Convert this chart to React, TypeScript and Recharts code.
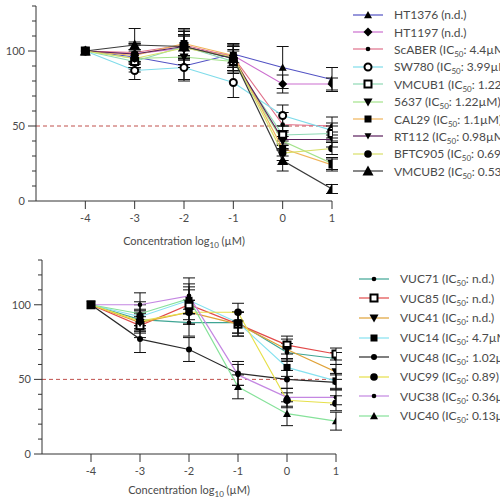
import React from 'react';
import { LineChart, Line, XAxis, YAxis, ErrorBar, ReferenceLine } from 'recharts';

// log10 concentration (µM)
const DOSES = [-4, -3, -2, -1, 0, 1];
const X_TICKS = [-4, -3, -2, -1, 0, 1];
const Y_TICKS = [0, 10, 20, 30, 40, 50, 60, 70, 80, 90, 100, 110, 120, 130];
const Y_LABELS = [0, 50, 100];

// --- upper panel: bladder cancer lines ---
const TOP_NAMES = ['HT1376', 'HT1197', 'ScABER', 'SW780', 'VMCUB1', '5637', 'CAL29', 'RT112', 'BFTC905', 'VMCUB2'];
// null = plain "(n.d.)"
const TOP_IC50: (string | null)[] = [null, null, '4.4µM', '3.99µM', '1.22µM', '1.22µM', '1.1µM', '0.98µM', '0.69µM', '0.53µM'];
const TOP_MEANS = [
  [100, 96, 90, 98, 89, 81], // HT1376
  [100, 98, 102, 97, 78, 78], // HT1197
  [100, 99, 104, 96, 51, 50], // ScABER
  [100, 87, 89, 79, 57, 47], // SW780
  [100, 93, 103, 93, 44, 45], // VMCUB1
  [100, 95, 96, 93, 40, 25], // 5637
  [100, 97, 105, 97, 35, 24], // CAL29
  [100, 98, 103, 95, 41, 41], // RT112
  [100, 95, 102, 96, 32, 35], // BFTC905
  [100, 104, 103, 95, 27, 8], // VMCUB2
];
const TOP_SD = [
  [0, 8, 10, 6, 14, 8],
  [0, 6, 8, 8, 6, 4],
  [0, 7, 9, 9, 8, 6],
  [0, 6, 8, 10, 7, 5],
  [0, 7, 8, 7, 6, 5],
  [0, 6, 7, 8, 6, 4],
  [0, 8, 9, 7, 5, 4],
  [0, 7, 8, 8, 6, 5],
  [0, 6, 8, 7, 5, 4],
  [0, 11, 12, 8, 7, 3],
];
const TOP_COLORS = ['#5252c4', '#cc6fcf', '#e0708a', '#7fdcea', '#8fd9b4', '#a3e28a', '#f0b45a', '#5a1f5c', '#d9e06a', '#3a3a3a'];
const TOP_SHAPES = ['triUp', 'diamond', 'dot', 'ring', 'openSquare', 'triDown', 'square', 'triDownSmall', 'circle', 'triUpBig'];

// --- lower panel: VUC lines ---
const BOT_NAMES = ['VUC71', 'VUC85', 'VUC41', 'VUC14', 'VUC48', 'VUC99', 'VUC38', 'VUC40'];
const BOT_IC50: (string | null)[] = ['n.d.', 'n.d.', 'n.d.', '4.7µM', '1.02µM', '0.89', '0.36µM', '0.13µM'];
const BOT_MEANS = [
  [100, 90, 88, 88, 68, 64], // VUC71
  [100, 86, 100, 87, 73, 67], // VUC85
  [100, 88, 95, 87, 70, 55], // VUC41
  [100, 92, 103, 88, 58, 49], // VUC14
  [100, 77, 70, 54, 50, 48], // VUC48
  [100, 89, 95, 95, 36, 34], // VUC99
  [100, 100, 106, 53, 38, 38], // VUC38
  [100, 94, 104, 45, 27, 22], // VUC40
];
const BOT_SD = [
  [0, 7, 9, 7, 6, 4],
  [0, 8, 10, 8, 6, 4],
  [0, 7, 8, 8, 7, 5],
  [0, 8, 9, 7, 6, 5],
  [0, 9, 8, 8, 6, 5],
  [0, 7, 8, 6, 5, 5],
  [0, 8, 12, 7, 6, 5],
  [0, 8, 10, 8, 8, 6],
];
const BOT_COLORS = ['#3fa594', '#e24a4a', '#e0a238', '#86e2f0', '#2a2a2a', '#e6e04a', '#c487e2', '#86e29a'];
const BOT_SHAPES = ['dot', 'openSquare', 'triDown', 'square', 'dotMid', 'circle', 'dot', 'triUp'];

const FONT = 'Lato, "Open Sans", sans-serif';
const TEXT = '#4a4a4a';
const AXIS = '#333';

function Marker({ cx, cy, shape }: { cx: number; cy: number; shape: string }) {
  if (cx == null || cy == null) return null;
  const tri = (h: number, up: boolean) => {
    const s = up ? 1 : -1;
    return `${cx},${cy - s * h} ${cx - h},${cy + s * h * 0.8} ${cx + h},${cy + s * h * 0.8}`;
  };
  switch (shape) {
    case 'triUp':
      return <polygon points={tri(4, true)} fill="#000" />;
    case 'triUpBig':
      return <polygon points={tri(5.5, true)} fill="#000" />;
    case 'triDown':
      return <polygon points={tri(4.5, false)} fill="#000" />;
    case 'triDownSmall':
      return <polygon points={tri(3.5, false)} fill="#000" />;
    case 'diamond':
      return <polygon points={`${cx},${cy - 4.5} ${cx + 4.5},${cy} ${cx},${cy + 4.5} ${cx - 4.5},${cy}`} fill="#000" />;
    case 'dot':
      return <circle cx={cx} cy={cy} r={2.3} fill="#000" />;
    case 'dotMid':
      return <circle cx={cx} cy={cy} r={3} fill="#000" />;
    case 'circle':
      return <circle cx={cx} cy={cy} r={3.8} fill="#000" />;
    case 'ring':
      return <circle cx={cx} cy={cy} r={3.5} fill="#fff" stroke="#000" strokeWidth={2} />;
    case 'square':
      return <rect x={cx - 3.5} y={cy - 3.5} width={7} height={7} fill="#000" />;
    case 'openSquare':
      return <rect x={cx - 3.5} y={cy - 3.5} width={7} height={7} fill="#fff" stroke="#000" strokeWidth={2} />;
    default:
      return null;
  }
}

function YTick({ x, y, payload }: any) {
  const major = Y_LABELS.includes(payload.value);
  const len = major ? 8 : 4;
  return (
    <g>
      <line x1={x - len} x2={x} y1={y} y2={y} stroke={AXIS} strokeWidth={1} />
      {major && (
        <text x={x - 11} y={y} dy="0.35em" textAnchor="end" fontSize={11} fill={TEXT} fontFamily={FONT}>
          {payload.value}
        </text>
      )}
    </g>
  );
}

function XLabel({ viewBox, dy }: any) {
  const { x, y, width } = viewBox;
  return (
    <text x={x + width / 2} y={y + dy} textAnchor="middle" fontSize={11} fill={TEXT} fontFamily={FONT}>
      Concentration log<tspan fontSize={8} dy={3}>10</tspan>
      <tspan dy={-3}> (µM)</tspan>
    </text>
  );
}

function legendText(name: string, ic: string | null) {
  if (ic === null) return <>{name} (n.d.)</>;
  return (
    <>
      {name} (IC<sub style={{ fontSize: 8, lineHeight: 0 }}>50</sub>: {ic})
    </>
  );
}

interface PanelProps {
  top: number;
  names: string[];
  ic50: (string | null)[];
  means: number[][];
  sds: number[][];
  colors: string[];
  shapes: string[];
  plotTop: number;
  xAxisHeight: number;
  yAxisWidth: number;
  rightMargin: number;
  legendLeft: number;
  legendTop: number;
  rowH: number;
  labelDy: number;
}

function Panel(p: PanelProps) {
  return (
    <div style={{ position: 'absolute', left: 0, top: p.top, width: 500, height: 250 }}>
      <LineChart
        width={500}
        height={250}
        margin={{ top: p.plotTop, right: p.rightMargin, bottom: 0, left: 0 }}
      >
        <XAxis
          type="number"
          dataKey="x"
          domain={[-5, 1]}
          ticks={X_TICKS}
          allowDataOverflow
          height={p.xAxisHeight}
          stroke={AXIS}
          tickSize={8}
          tickMargin={5}
          tick={{ fontSize: 11, fill: TEXT, fontFamily: FONT }}
          label={<XLabel dy={p.labelDy} />}
        />
        <YAxis
          type="number"
          domain={[0, 130]}
          ticks={Y_TICKS}
          interval={0}
          width={p.yAxisWidth}
          stroke={AXIS}
          tickLine={false}
          tickSize={0}
          tickMargin={0}
          tick={<YTick />}
        />
        <ReferenceLine y={50} stroke="#c0504d" strokeDasharray="4 3" strokeWidth={1} />
        {p.names.map((name, k) => (
          <Line
            key={name}
            name={name}
            data={DOSES.map((x, i) => ({ x, y: p.means[k][i], e: p.sds[k][i] }))}
            dataKey="y"
            stroke={p.colors[k]}
            strokeWidth={1.2}
            isAnimationActive={false}
            dot={(d: any) => <Marker key={`${name}-${d.index}`} cx={d.cx} cy={d.cy} shape={p.shapes[k]} />}
            activeDot={false}
          >
            <ErrorBar dataKey="e" width={6} stroke="#111" strokeWidth={1} direction="y" />
          </Line>
        ))}
      </LineChart>
      <div
        style={{
          position: 'absolute',
          left: p.legendLeft,
          top: p.legendTop,
          fontFamily: FONT,
          fontSize: 12,
          color: TEXT,
        }}
      >
        {p.names.map((name, k) => (
          <div key={name} style={{ height: p.rowH, display: 'flex', alignItems: 'center', whiteSpace: 'nowrap' }}>
            <svg width={30} height={12} style={{ flex: 'none' }}>
              <line x1={0} x2={30} y1={6} y2={6} stroke={p.colors[k]} strokeWidth={1.2} />
              <Marker cx={15} cy={6} shape={p.shapes[k]} />
            </svg>
            <span style={{ marginLeft: 11 }}>{legendText(name, p.ic50[k])}</span>
          </div>
        ))}
      </div>
    </div>
  );
}

export default function App() {
  return (
    <div style={{ position: 'absolute', left: 0, top: 0, width: 500, height: 500, overflow: 'hidden', background: '#fff' }}>
      <Panel
        top={0}
        names={TOP_NAMES}
        ic50={TOP_IC50}
        means={TOP_MEANS}
        sds={TOP_SD}
        colors={TOP_COLORS}
        shapes={TOP_SHAPES}
        plotTop={6}
        xAxisHeight={49}
        yAxisWidth={36}
        rightMargin={168}
        legendLeft={353}
        legendTop={6}
        rowH={17.4}
        labelDy={44}
      />
      <Panel
        top={250}
        names={BOT_NAMES}
        ic50={BOT_IC50}
        means={BOT_MEANS}
        sds={BOT_SD}
        colors={BOT_COLORS}
        shapes={BOT_SHAPES}
        plotTop={10}
        xAxisHeight={46}
        yAxisWidth={42}
        rightMargin={164}
        legendLeft={359}
        legendTop={19}
        rowH={19.6}
        labelDy={40}
      />
    </div>
  );
}
